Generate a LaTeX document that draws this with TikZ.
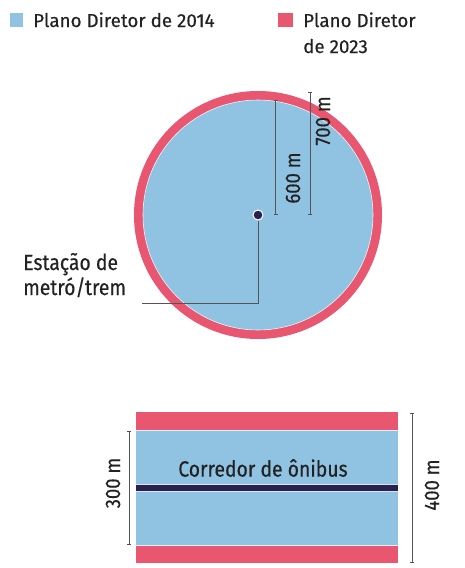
\documentclass[tikz,border=0pt]{standalone}
\usepackage{fontspec}
\setmainfont[FakeBold=0.4]{Fira Sans}
\newfontfamily\condfont[FakeStretch=0.88,FakeBold=0.4]{Fira Sans}
\usetikzlibrary{arrows.meta}
\definecolor{pdblue}{HTML}{90C3E2}
\definecolor{pdred}{HTML}{E8566F}
\definecolor{navy}{HTML}{2A2150}
\definecolor{dimgray}{HTML}{555555}
\definecolor{txt}{HTML}{222222}
\tikzset{
  dimline/.style={draw=dimgray, line width=0.9pt, {Bar[width=4pt]}-{Bar[width=4pt]}},
  leg/.style={font=\fontsize{18.8}{26}\selectfont, text=txt, inner sep=0pt, align=left},
  lbl/.style={font=\condfont\fontsize{22}{25}\selectfont, text=txt, inner sep=0pt},
  dimlbl/.style={font=\condfont\fontsize{21}{25}\selectfont, text=txt, inner sep=0pt, rotate=90},
}
\begin{document}
\begin{tikzpicture}[x=1pt,y=-1pt]
\useasboundingbox (0,0) rectangle (465,568);
% legend
\node[fill=pdblue, minimum size=13.5pt, inner sep=0pt] (sq1) at (16.5,20) {};
\node[leg, anchor=base west] (t1) at (33,27) {Plano Diretor de 2014};
\node[fill=pdred, minimum size=14.5pt, inner sep=0pt] (sq2) at (285.5,20) {};
\node[leg, anchor=base west] (t2) at (303,27) {Plano Diretor};
\node[leg, anchor=base west] (t3) at (303,53) {de 2023};
% circle
\fill[pdred] (258,215) circle[radius=124];
\fill[pdblue, draw=white!80!pdblue, line width=0.6pt] (258,215) circle[radius=115];
\node[circle, fill=navy, draw=white, line width=1pt, minimum size=10pt, inner sep=0pt] (st) at (258,215) {};
\coordinate (le) at (142,303);
\draw[dimgray, line width=1pt] (st.south) |- (le);
\node[lbl, anchor=base west, align=left] (lab) at (23,295) {Estação de\\metró/trem};
% radii
\coordinate (r6a) at (275.7,215);
\coordinate (r6b) at (275.7,100);
\draw[dimline] (r6a) -- (r6b);
\node[dimlbl] (l600) at (293,178) {600 m};
\coordinate (r7a) at (310,215);
\coordinate (r7b) at (310,92);
\draw[dimline] (r7a) -- (r7b);
\node[dimlbl] (l700) at (323,121) {700 m};
% corridor
\fill[pdred] (136,412) rectangle (398,563);
\fill[pdblue] (136,430) rectangle (398,545);
\draw[white!70!pdblue, line width=0.6pt] (136,430) -- (398,430) (136,545) -- (398,545);
\fill[navy] (136,485) rectangle (398,491);
\draw[white!60!pdblue, line width=0.6pt] (136,484.5) -- (398,484.5) (136,491.5) -- (398,491.5);
\node[lbl] (cor) at (263,468) {Corredor de ônibus};
\coordinate (c3a) at (129,431);
\coordinate (c3b) at (129,545);
\draw[dimline] (c3a) -- (c3b);
\node[dimlbl] (l300) at (113,483) {300 m};
\coordinate (c4a) at (412,413);
\coordinate (c4b) at (412,563);
\draw[dimline] (c4a) -- (c4b);
\node[dimlbl] (l400) at (432,485) {400 m};
\end{tikzpicture}
\end{document}
